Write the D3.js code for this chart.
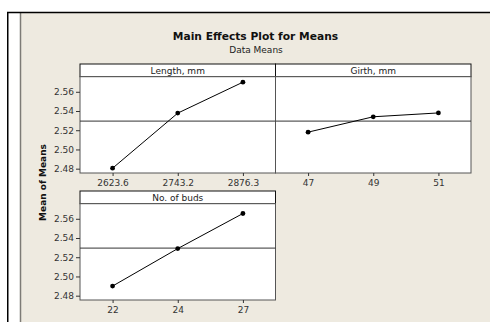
<!DOCTYPE html>
<html>
<head>
<meta charset="utf-8">
<script src="https://cdn.jsdelivr.net/npm/d3@7"></script>
<style>
  html, body { margin: 0; padding: 0; background: #ffffff; }
  svg { display: block; font-family: "DejaVu Sans", "Liberation Sans", Arial, sans-serif; }
</style>
</head>
<body>
<svg id="chart" width="490" height="322"></svg>
<script>
// Factor levels and mean response at each level
const lengthLevels = ["2623.6", "2743.2", "2876.3"];
const lengthMeans  = [2.4805, 2.5378, 2.5700];
const girthLevels  = ["47", "49", "51"];
const girthMeans   = [2.518, 2.534, 2.538];
const budLevels    = ["22", "24", "27"];
const budMeans     = [2.490, 2.529, 2.5655];
const grandMean    = 2.5295;
const yTicks       = [2.48, 2.50, 2.52, 2.54, 2.56];
const yDomain      = [2.4755, 2.5757];

const panels = [
  { name: "Length, mm",  levels: lengthLevels, means: lengthMeans, col: 0, row: 0, showY: true },
  { name: "Girth, mm",   levels: girthLevels,  means: girthMeans,  col: 1, row: 0, showY: false },
  { name: "No. of buds", levels: budLevels,    means: budMeans,    col: 0, row: 1, showY: true }
];

const FONT = "DejaVu Sans, Liberation Sans, Arial, sans-serif";
const svg = d3.select("#chart");

// page frame: white margin, black rules, beige graph region
svg.append("rect").attr("x", 0).attr("y", 0).attr("width", 490).attr("height", 322).attr("fill", "#ffffff");
svg.append("rect").attr("x", 21).attr("y", 13).attr("width", 469).attr("height", 309).attr("fill", "#eeeae0");
svg.append("line").attr("x1", 20.5).attr("x2", 20.5).attr("y1", 13).attr("y2", 322)
  .attr("stroke", "#7d7b76").attr("stroke-width", 1.5);
svg.append("line").attr("x1", 7).attr("x2", 490).attr("y1", 12.5).attr("y2", 12.5)
  .attr("stroke", "#000").attr("stroke-width", 1.5);
svg.append("line").attr("x1", 7.75).attr("x2", 7.75).attr("y1", 12).attr("y2", 322)
  .attr("stroke", "#000").attr("stroke-width", 1.5);

// titles
svg.append("text").attr("x", 255.5).attr("y", 40).attr("text-anchor", "middle")
  .attr("font-size", 10.7).attr("font-weight", "bold").attr("fill", "#111")
  .text("Main Effects Plot for Means");
svg.append("text").attr("x", 256).attr("y", 53.3).attr("text-anchor", "middle")
  .attr("font-size", 9).attr("fill", "#222")
  .text("Data Means");
svg.append("text").attr("transform", "translate(46,182.5) rotate(-90)").attr("text-anchor", "middle")
  .attr("font-size", 9).attr("font-weight", "bold").attr("fill", "#111")
  .text("Mean of Means");

// panel geometry
const panelW = 195.5, stripH = 12.7, plotH = 96.3;
const colX = [80, 275.5];
const rowY = [64, 191];

panels.forEach(p => {
  const x0 = colX[p.col], top = rowY[p.row];
  const plotTop = top + stripH, plotBottom = plotTop + plotH;
  const g = svg.append("g");

  const x = d3.scalePoint().domain(p.levels).range([x0, x0 + panelW]).padding(0.5);
  const y = d3.scaleLinear().domain(yDomain).range([plotBottom, plotTop]);

  // strip
  g.append("rect").attr("x", x0).attr("y", top).attr("width", panelW).attr("height", stripH)
    .attr("fill", "#fff").attr("stroke", "#111").attr("stroke-width", 1);
  g.append("text").attr("x", x0 + panelW / 2).attr("y", top + 10).attr("text-anchor", "middle")
    .attr("font-size", 9).attr("fill", "#222").text(p.name);

  // plot area
  g.append("rect").attr("x", x0).attr("y", plotTop).attr("width", panelW).attr("height", plotH)
    .attr("fill", "#fff").attr("stroke", "#555").attr("stroke-width", 1);

  // reference line at the grand mean
  g.append("line").attr("x1", x0).attr("x2", x0 + panelW)
    .attr("y1", y(grandMean)).attr("y2", y(grandMean))
    .attr("stroke", "#333").attr("stroke-width", 1);

  // x axis
  const xa = g.append("g").attr("transform", `translate(0,${plotBottom})`)
    .call(d3.axisBottom(x).tickSize(3).tickPadding(4));
  xa.select(".domain").remove();
  xa.selectAll("line").attr("stroke", "#333");
  xa.selectAll("text").attr("font-size", 9).attr("fill", "#333").attr("font-family", FONT);

  // y axis
  if (p.showY) {
    const ya = g.append("g").attr("transform", `translate(${x0},0)`)
      .call(d3.axisLeft(y).tickValues(yTicks).tickFormat(d3.format(".2f")).tickSize(4).tickPadding(2));
    ya.select(".domain").remove();
    ya.selectAll("line").attr("stroke", "#333");
    ya.selectAll("text").attr("font-size", 9).attr("fill", "#333").attr("font-family", FONT);
  }

  // mean profile
  const pts = p.levels.map((l, i) => [x(l), y(p.means[i])]);
  g.append("path").attr("d", d3.line()(pts)).attr("fill", "none")
    .attr("stroke", "#000").attr("stroke-width", 1);
  g.selectAll("circle.pt").data(pts).enter().append("circle")
    .attr("cx", d => d[0]).attr("cy", d => d[1]).attr("r", 2.4).attr("fill", "#000");
});
</script>
</body>
</html>
